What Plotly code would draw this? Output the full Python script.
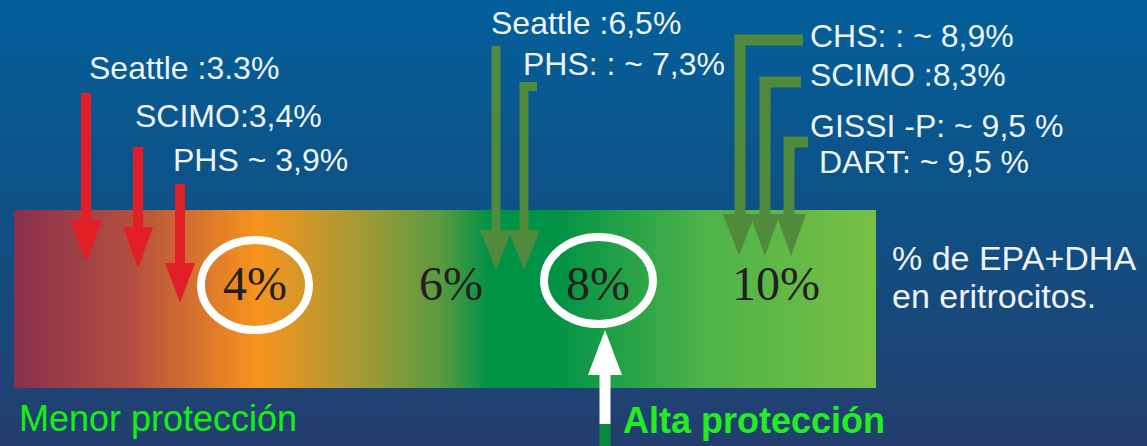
import plotly.graph_objects as go
import numpy as np

# ---------------- data ----------------
low_studies = ["Seattle :3.3%", "SCIMO:3,4%", "PHS ~ 3,9%"]
mid_studies = ["Seattle :6,5%", "PHS: : ~ 7,3%"]
high_studies = ["CHS: : ~ 8,9%", "SCIMO :8,3%", "GISSI -P: ~ 9,5 %", " DART: ~ 9,5 %"]
scale_labels = ["4%", "6%", "8%", "10%"]
axis_caption = ["% de EPA+DHA", "en eritrocitos."]
zone_labels = ["Menor protección", "Alta protección"]

# ---------------- layout constants ----------------
W, H = 1147, 446
BAR_X0, BAR_X1, BAR_Y0, BAR_Y1 = 14, 876, 210, 388

fig = go.Figure()

# background vertical gradient
N = 120
bg_y = np.linspace(0, H, N + 1)
fig.add_trace(go.Heatmap(
    z=[[i] for i in range(N)], x=[0, W], y=bg_y,
    colorscale=[[0, "#035f9a"], [0.5, "#0f5084"], [1, "#233e6e"]],
    showscale=False, hoverinfo="skip", zsmooth=False))

# bar horizontal gradient
M = 431
bar_x = np.linspace(BAR_X0, BAR_X1, M + 1)
def frac(px):
    return (px - BAR_X0) / (BAR_X1 - BAR_X0)
bar_scale = [
    [0.0, "#8a2f4c"],
    [frac(130), "#b24e40"],
    [frac(257), "#f7941d"],
    [frac(360), "#a59a35"],
    [frac(440), "#5a9a40"],
    [frac(490), "#009245"],
    [frac(555), "#009245"],
    [frac(700), "#4cb249"],
    [1.0, "#78c043"],
]
fig.add_trace(go.Heatmap(
    z=[list(range(M))], x=bar_x, y=[BAR_Y0, BAR_Y1],
    colorscale=bar_scale, showscale=False, hoverinfo="skip", zsmooth=False))

shapes = []
RED = "#e21f26"
GREEN = "#508a3d"

def shaft(x, y0, y1, color, w=10):
    shapes.append(dict(type="line", x0=x, x1=x, y0=y0, y1=y1,
                       line=dict(color=color, width=w)))

def head(x, ytop, tip, hw, color):
    shapes.append(dict(type="path",
                       path=f"M {x-hw},{ytop} L {x+hw},{ytop} L {x},{tip} Z",
                       fillcolor=color, line=dict(width=0)))

def lpath(pts, color, w=10):
    p = "M " + " L ".join(f"{a},{b}" for a, b in pts)
    shapes.append(dict(type="path", path=p, line=dict(color=color, width=w)))

# red arrows (low studies)
red_arrows = [(86, 93, 220, 262, 16), (138, 147, 227, 268, 15), (180, 184, 263, 303, 15)]
for x, top, hb, tip, hw in red_arrows:
    shaft(x, top, hb + 2, RED)
    head(x, hb, tip, hw, RED)

# green arrows (mid studies)
shaft(496, 46, 232, GREEN, 9)
head(496, 230, 270, 16, GREEN)
lpath([(537, 86.5), (524, 86.5), (524, 232)], GREEN, 9)
head(524, 230, 270, 16, GREEN)

# green L arrows (high studies)
lpath([(803, 40), (740, 40), (740, 216)], GREEN, 11)
head(739, 214, 256, 16, GREEN)
lpath([(801, 82), (765, 82), (765, 216)], GREEN, 11)
head(765, 214, 256, 15, GREEN)
lpath([(808, 142), (789, 142), (789, 216)], GREEN, 11)
head(791, 214, 256, 15, GREEN)

# ellipses around 4% and 8%
shapes.append(dict(type="circle", x0=201, x1=309, y0=240, y1=330,
                   line=dict(color="white", width=8)))
shapes.append(dict(type="circle", x0=544, x1=653, y0=237, y1=324,
                   line=dict(color="white", width=8)))

# white up arrow to 8%
shapes.append(dict(type="line", x0=605, x1=605, y0=372, y1=424,
                   line=dict(color="white", width=11)))
shapes.append(dict(type="line", x0=605, x1=605, y0=424, y1=446,
                   line=dict(color="#0a8a3e", width=11)))
head(605, 375, 330, 17, "white")
fig.update_layout(shapes=[dict(s, layer="above") for s in shapes])

ann = []
TXT = "#eef3f8"
SANS = "Liberation Sans, Arial, sans-serif"
def text(x, y, s, size, color=TXT, family=SANS, xanchor="left"):
    ann.append(dict(x=x, y=y, text=s, showarrow=False, xanchor=xanchor,
                    yanchor="middle", borderpad=0,
                    font=dict(size=size, color=color, family=family)))

for s, (x, y) in zip(low_studies, [(88, 68), (134, 116), (172, 160)]):
    text(x, y, s, 32)
for s, (x, y) in zip(mid_studies, [(490, 23), (522, 64)]):
    text(x, y, s, 32)
for s, (x, y) in zip(high_studies, [(809, 36), (809, 75), (809, 126), (809, 162)]):
    text(x, y, s, 32)

for s, x in zip(scale_labels, [255, 451, 598, 776]):
    text(x, 283, s, 48, color="#231f20", family="Liberation Serif, Times New Roman, serif",
         xanchor="center")

text(891, 258, axis_caption[0], 34)
text(891, 296, axis_caption[1], 34)

text(18, 418, zone_labels[0], 36, color="#14f212")
text(622, 420, "<b>" + zone_labels[1] + "</b>", 36, color="#22ee22")

fig.update_layout(
    annotations=ann,
    width=W, height=H,
    margin=dict(l=0, r=0, t=0, b=0),
    paper_bgcolor="#0f5084", plot_bgcolor="#0f5084",
    xaxis=dict(range=[0, W], visible=False, fixedrange=True),
    yaxis=dict(range=[H, 0], visible=False, fixedrange=True),
    showlegend=False,
)
fig.write_html("out.html")
